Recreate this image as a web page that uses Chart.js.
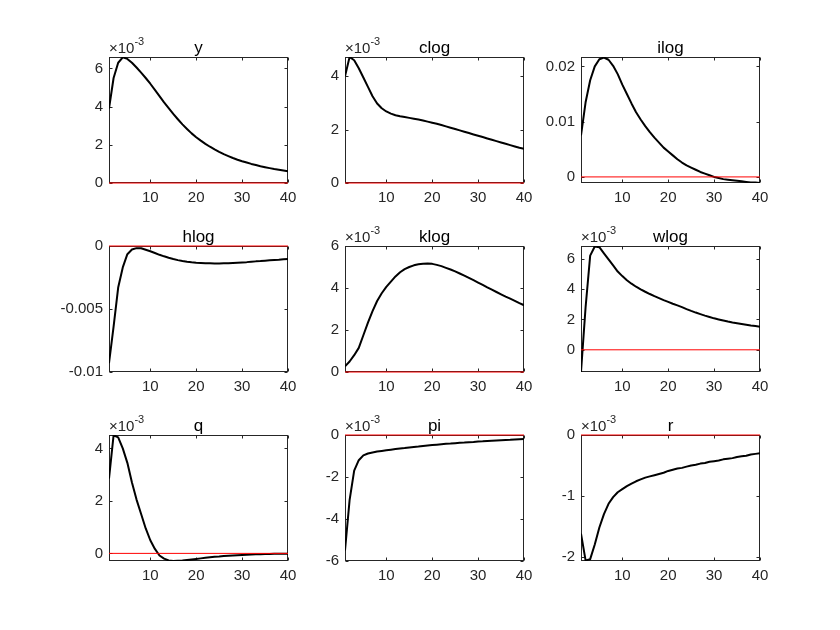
<!DOCTYPE html>
<html>
<head>
<meta charset="utf-8">
<script src="https://cdn.jsdelivr.net/npm/chart.js@4.4.1/dist/chart.umd.min.js"></script>
<style>
  html, body { margin: 0; padding: 0; background: #fff; }
  #fig { position: relative; width: 840px; height: 630px; background: #fff; overflow: hidden; }
  #fig canvas { position: absolute; }
</style>
</head>
<body>
<div id="fig"></div>
<script>
// horizon (periods after the shock)
const periods = [1, 2, 3, 4, 5, 6, 7, 8, 9, 10, 11, 12, 13, 14, 15, 16, 17, 18, 19, 20,
                 21, 22, 23, 24, 25, 26, 27, 28, 29, 30, 31, 32, 33, 34, 35, 36, 37, 38, 39, 40];
const xTicks = [10, 20, 30, 40];
const xTickLabels = ['10', '20', '30', '40'];

// impulse responses (values in axis units, see axisExponent)
const yIrf = [3.9, 5.5, 6.3, 6.58, 6.5, 6.3, 6.05, 5.78, 5.5, 5.2, 4.88, 4.55, 4.22, 3.92, 3.62, 3.34, 3.07, 2.83, 2.6, 2.4,
              2.22, 2.05, 1.9, 1.76, 1.63, 1.51, 1.41, 1.31, 1.22, 1.14, 1.07, 1.0, 0.94, 0.88, 0.83, 0.78, 0.73, 0.69, 0.65, 0.61];
const clogIrf = [4.0, 4.72, 4.6, 4.3, 3.95, 3.6, 3.25, 2.98, 2.8, 2.68, 2.6, 2.54, 2.5, 2.47, 2.44, 2.41, 2.38, 2.34, 2.3, 2.26,
                 2.22, 2.17, 2.12, 2.07, 2.02, 1.97, 1.92, 1.87, 1.82, 1.77, 1.72, 1.67, 1.62, 1.57, 1.52, 1.47, 1.42, 1.37, 1.32, 1.28];
const ilogIrf = [0.0075, 0.0135, 0.0175, 0.0200, 0.0213, 0.0216, 0.0212, 0.0201, 0.0186, 0.0167, 0.0150, 0.0133, 0.0117, 0.0104, 0.0092, 0.0081, 0.0071, 0.0062, 0.0053, 0.0046,
                 0.0039, 0.0032, 0.0026, 0.0021, 0.0017, 0.0013, 0.0009, 0.0006, 0.0003, 0.0000, -0.0002, -0.0004, -0.0005, -0.0006, -0.0007, -0.0008, -0.0009, -0.0010, -0.0010, -0.0011];
const hlogIrf = [-0.0093, -0.0064, -0.0033, -0.0017, -0.00065, -0.00028, -0.00017, -0.00018, -0.0003, -0.00042, -0.00056, -0.0007, -0.00082, -0.00093, -0.00103, -0.00112, -0.00119, -0.00125, -0.00129, -0.00132,
                 -0.00134, -0.00136, -0.00137, -0.00138, -0.00138, -0.00137, -0.00136, -0.00134, -0.00132, -0.0013, -0.00128, -0.00125, -0.00122, -0.0012, -0.00117, -0.00114, -0.00111, -0.00109, -0.00106, -0.00103];
const klogIrf = [0.27, 0.5, 0.8, 1.15, 1.75, 2.35, 2.9, 3.38, 3.75, 4.05, 4.3, 4.55, 4.75, 4.9, 5.0, 5.08, 5.13, 5.16, 5.17, 5.15,
                 5.1, 5.04, 4.96, 4.88, 4.79, 4.69, 4.59, 4.48, 4.37, 4.26, 4.15, 4.03, 3.92, 3.81, 3.7, 3.59, 3.49, 3.39, 3.28, 3.18];
const wlogIrf = [-1.46, 2.8, 6.2, 6.8, 6.75, 6.35, 5.95, 5.55, 5.15, 4.85, 4.58, 4.35, 4.15, 3.98, 3.82, 3.67, 3.53, 3.4, 3.27, 3.15,
                 3.03, 2.92, 2.81, 2.68, 2.56, 2.45, 2.35, 2.25, 2.16, 2.07, 2.0, 1.93, 1.86, 1.8, 1.75, 1.7, 1.65, 1.6, 1.56, 1.52];
const qIrf = [2.85, 4.5, 4.42, 4.0, 3.45, 2.7, 2.05, 1.5, 0.95, 0.5, 0.17, -0.08, -0.2, -0.27, -0.29, -0.28, -0.27, -0.25, -0.23, -0.21,
              -0.19, -0.17, -0.15, -0.13, -0.12, -0.1, -0.09, -0.08, -0.07, -0.06, -0.05, -0.04, -0.03, -0.03, -0.02, -0.02, -0.01, -0.01, -0.01, -0.01];
const piIrf = [-5.5, -3.1, -1.7, -1.2, -0.97, -0.88, -0.83, -0.79, -0.76, -0.73, -0.7, -0.67, -0.64, -0.62, -0.59, -0.57, -0.55, -0.52, -0.5, -0.48,
               -0.46, -0.44, -0.42, -0.41, -0.39, -0.37, -0.36, -0.34, -0.33, -0.31, -0.3, -0.28, -0.27, -0.26, -0.25, -0.24, -0.23, -0.21, -0.2, -0.19];
const rIrf = [-1.62, -2.06, -2.04, -1.8, -1.52, -1.3, -1.13, -1.02, -0.94, -0.89, -0.84, -0.8, -0.76, -0.73, -0.7, -0.68, -0.66, -0.64, -0.62, -0.59,
              -0.57, -0.55, -0.54, -0.52, -0.5, -0.49, -0.47, -0.46, -0.44, -0.43, -0.42, -0.4, -0.39, -0.38, -0.36, -0.35, -0.34, -0.32, -0.31, -0.3];

const titles = ['y', 'clog', 'ilog', 'hlog', 'klog', 'wlog', 'q', 'pi', 'r'];
const series = [yIrf, clogIrf, ilogIrf, hlogIrf, klogIrf, wlogIrf, qIrf, piIrf, rIrf];
const axisExponent = [-3, -3, 0, 0, -3, -3, -3, -3, -3];
const yLimits = [[0, 6.6], [0, 4.72], [-0.0011, 0.0217], [-0.01, 0], [0, 6], [-1.46, 6.83], [-0.29, 4.51], [-6, 0], [-2.07, 0]];
const yTicks = [[0, 2, 4, 6], [0, 2, 4], [0, 0.01, 0.02], [-0.01, -0.005, 0], [0, 2, 4, 6], [0, 2, 4, 6], [0, 2, 4], [-6, -4, -2, 0], [-2, -1, 0]];
const yTickLabels = [['0', '2', '4', '6'], ['0', '2', '4'], ['0', '0.01', '0.02'], ['-0.01', '-0.005', '0'], ['0', '2', '4', '6'],
                     ['0', '2', '4', '6'], ['0', '2', '4'], ['-6', '-4', '-2', '0'], ['-2', '-1', '0']];
const zeroLevel = 0;

// subplot grid (plot box corners)
const boxLefts = [109, 345, 581];
const boxTops = [57, 246, 435];
const boxW = 179, boxH = 126;
const padL = 60, padT = 30, padR = 20, padB = 30;

const FONT = '"Liberation Sans", Arial, Helvetica, sans-serif';
const AXIS_COLOR = '#262626';

const matlabAxes = {
    id: 'matlabAxes',
    // box and tick marks go under the lines, text on top
    beforeDatasetsDraw(chart) {
        const ctx = chart.ctx;
        const a = chart.chartArea;
        const xs = chart.scales.x, ys = chart.scales.y;
        const L = Math.round(a.left) + 0.5, R = Math.round(a.right) - 0.5;
        const T = Math.round(a.top) + 0.5, B = Math.round(a.bottom) - 0.5;
        ctx.save();
        ctx.strokeStyle = AXIS_COLOR;
        ctx.lineWidth = 1;
        ctx.strokeRect(L, T, R - L, B - T);
        ctx.beginPath();
        xs.ticks.forEach(t => {
            const px = Math.round(xs.getPixelForValue(t.value)) + 0.5;
            ctx.moveTo(px, B); ctx.lineTo(px, B - 3);
            ctx.moveTo(px, T); ctx.lineTo(px, T + 3);
        });
        ys.ticks.forEach(t => {
            const py = Math.round(ys.getPixelForValue(t.value)) + 0.5;
            ctx.moveTo(L, py); ctx.lineTo(L + 3, py);
            ctx.moveTo(R, py); ctx.lineTo(R - 3, py);
        });
        ctx.stroke();
        ctx.restore();
    },
    afterDatasetsDraw(chart, args, opts) {
        const ctx = chart.ctx;
        const a = chart.chartArea;
        ctx.save();
        ctx.fillStyle = '#000';
        ctx.font = '17px ' + FONT;
        ctx.textAlign = 'center';
        ctx.textBaseline = 'alphabetic';
        ctx.fillText(opts.title, (a.left + a.right) / 2, a.top - 4);

        if (opts.exponent) {
            ctx.fillStyle = AXIS_COLOR;
            ctx.textAlign = 'left';
            ctx.font = '15px ' + FONT;
            const base = '\u00d710';
            ctx.fillText(base, a.left, a.top - 4);
            const w = ctx.measureText(base).width;
            ctx.font = '11px ' + FONT;
            ctx.fillText(String(opts.exponent), a.left + w, a.top - 12);
        }
        ctx.restore();
    }
};

const fig = document.getElementById('fig');

series.forEach((vals, i) => {
    const col = i % 3, row = Math.floor(i / 3);
    const canvas = document.createElement('canvas');
    canvas.width = padL + boxW + padR;
    canvas.height = padT + boxH + padB;
    canvas.style.left = (boxLefts[col] - padL) + 'px';
    canvas.style.top = (boxTops[row] - padT) + 'px';
    fig.appendChild(canvas);

    const ticksY = yTicks[i], labelsY = yTickLabels[i];

    new Chart(canvas.getContext('2d'), {
        type: 'line',
        data: {
            labels: periods,
            datasets: [
                {
                    // zero reference line, on top like MATLAB's second plot call
                    data: [{ x: periods[0], y: zeroLevel }, { x: periods[periods.length - 1], y: zeroLevel }],
                    borderColor: '#ff0000',
                    borderWidth: 1,
                    pointRadius: 0,
                    clip: false,
                    fill: false
                },
                {
                    data: vals,
                    borderColor: '#000000',
                    borderWidth: 2,
                    borderJoinStyle: 'round',
                    pointRadius: 0,
                    tension: 0,
                    fill: false
                }
            ]
        },
        options: {
            responsive: false,
            animation: false,
            devicePixelRatio: 1,
            events: [],
            layout: { padding: { left: 0, top: padT, right: padR, bottom: 0 } },
            plugins: {
                legend: { display: false },
                tooltip: { enabled: false },
                matlabAxes: { title: titles[i], exponent: axisExponent[i] }
            },
            scales: {
                x: {
                    type: 'linear',
                    min: periods[0],
                    max: periods[periods.length - 1],
                    afterBuildTicks: s => { s.ticks = xTicks.map(v => ({ value: v })); },
                    afterFit: s => { s.height = padB; },
                    grid: { display: false, drawTicks: false },
                    border: { display: false },
                    ticks: {
                        color: AXIS_COLOR,
                        font: { family: FONT, size: 15 },
                        padding: 6,
                        maxRotation: 0,
                        autoSkip: false,
                        callback: (v, idx) => xTickLabels[idx]
                    }
                },
                y: {
                    type: 'linear',
                    min: yLimits[i][0],
                    max: yLimits[i][1],
                    afterBuildTicks: s => { s.ticks = ticksY.map(v => ({ value: v })); },
                    afterFit: s => { s.width = padL; },
                    grid: { display: false, drawTicks: false },
                    border: { display: false },
                    ticks: {
                        color: AXIS_COLOR,
                        font: { family: FONT, size: 15 },
                        padding: 6,
                        autoSkip: false,
                        callback: (v, idx) => labelsY[idx]
                    }
                }
            }
        },
        plugins: [matlabAxes]
    });
});
</script>
</body>
</html>
